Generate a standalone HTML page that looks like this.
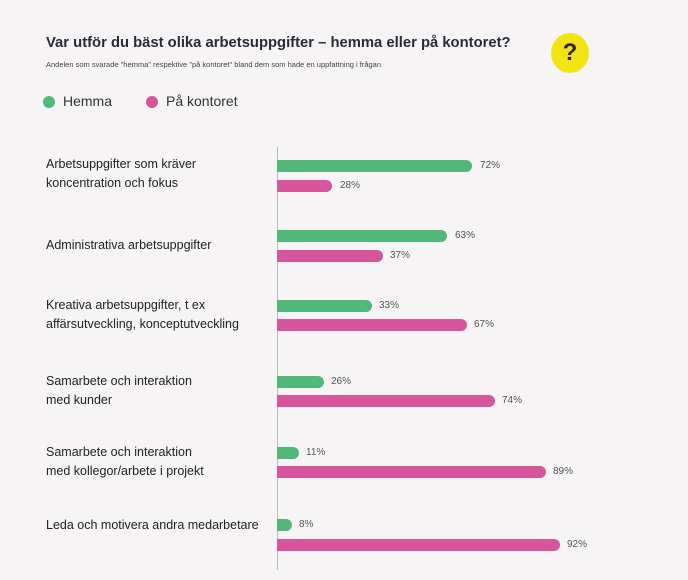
<!DOCTYPE html>
<html><head><meta charset="utf-8"><style>
body{margin:0;width:688px;height:580px;background:#f6f4f5;font-family:"Liberation Sans",sans-serif;position:relative;overflow:hidden;color:#2a2a33}
.a{position:absolute;white-space:nowrap}
.bar{position:absolute;left:277px;height:12px;border-radius:0 6px 6px 0}
.g{background:#52b87a}.p{background:#d6559b}
.v{position:absolute;font-size:10px;color:#555;line-height:12px}
.l{position:absolute;left:46px;font-size:12.5px;line-height:19px;color:#222}
</style></head><body>
<div class="a" style="left:46px;top:35px;font-size:14.8px;font-weight:bold;color:#2b2b38">Var utför du bäst olika arbetsuppgifter – hemma eller på kontoret?</div>
<div class="a" style="left:46px;top:60px;font-size:7.5px;color:#444">Andelen som svarade "hemma" respektive "på kontoret" bland dem som hade en uppfattning i frågan</div>
<div class="a" style="left:551px;top:33px;width:38px;height:40px;border-radius:50%;background:#f2e413;text-align:center;font-size:24px;font-weight:bold;line-height:40px;color:#2b2b38">?</div>
<div class="a" style="left:43px;top:96px;width:12px;height:12px;border-radius:50%;background:#52b87a"></div>
<div class="a" style="left:63px;top:93px;font-size:14px;color:#333">Hemma</div>
<div class="a" style="left:146px;top:96px;width:12px;height:12px;border-radius:50%;background:#d6559b"></div>
<div class="a" style="left:166px;top:93px;font-size:14px;color:#333">På kontoret</div>
<div class="a" style="left:277px;top:147px;width:1px;height:423px;background:#bbb"></div>

<div class="l" style="top:155px">Arbetsuppgifter som kräver<br>koncentration och fokus</div>
<div class="l" style="top:236px">Administrativa arbetsuppgifter</div>
<div class="l" style="top:296px">Kreativa arbetsuppgifter, t ex<br>affärsutveckling, konceptutveckling</div>
<div class="l" style="top:372px">Samarbete och interaktion<br>med kunder</div>
<div class="l" style="top:443px">Samarbete och interaktion<br>med kollegor/arbete i projekt</div>
<div class="l" style="top:516px">Leda och motivera andra medarbetare</div>

<div class="bar g" style="top:160px;width:195px"></div><div class="v" style="left:480px;top:160px">72%</div>
<div class="bar p" style="top:180px;width:55px"></div><div class="v" style="left:340px;top:180px">28%</div>
<div class="bar g" style="top:230px;width:170px"></div><div class="v" style="left:455px;top:230px">63%</div>
<div class="bar p" style="top:250px;width:106px"></div><div class="v" style="left:390px;top:250px">37%</div>
<div class="bar g" style="top:300px;width:95px"></div><div class="v" style="left:379px;top:300px">33%</div>
<div class="bar p" style="top:319px;width:190px"></div><div class="v" style="left:474px;top:319px">67%</div>
<div class="bar g" style="top:376px;width:47px"></div><div class="v" style="left:331px;top:376px">26%</div>
<div class="bar p" style="top:395px;width:218px"></div><div class="v" style="left:502px;top:395px">74%</div>
<div class="bar g" style="top:447px;width:22px"></div><div class="v" style="left:306px;top:447px">11%</div>
<div class="bar p" style="top:466px;width:269px"></div><div class="v" style="left:553px;top:466px">89%</div>
<div class="bar g" style="top:519px;width:15px"></div><div class="v" style="left:299px;top:519px">8%</div>
<div class="bar p" style="top:539px;width:283px"></div><div class="v" style="left:567px;top:539px">92%</div>
</body></html>
